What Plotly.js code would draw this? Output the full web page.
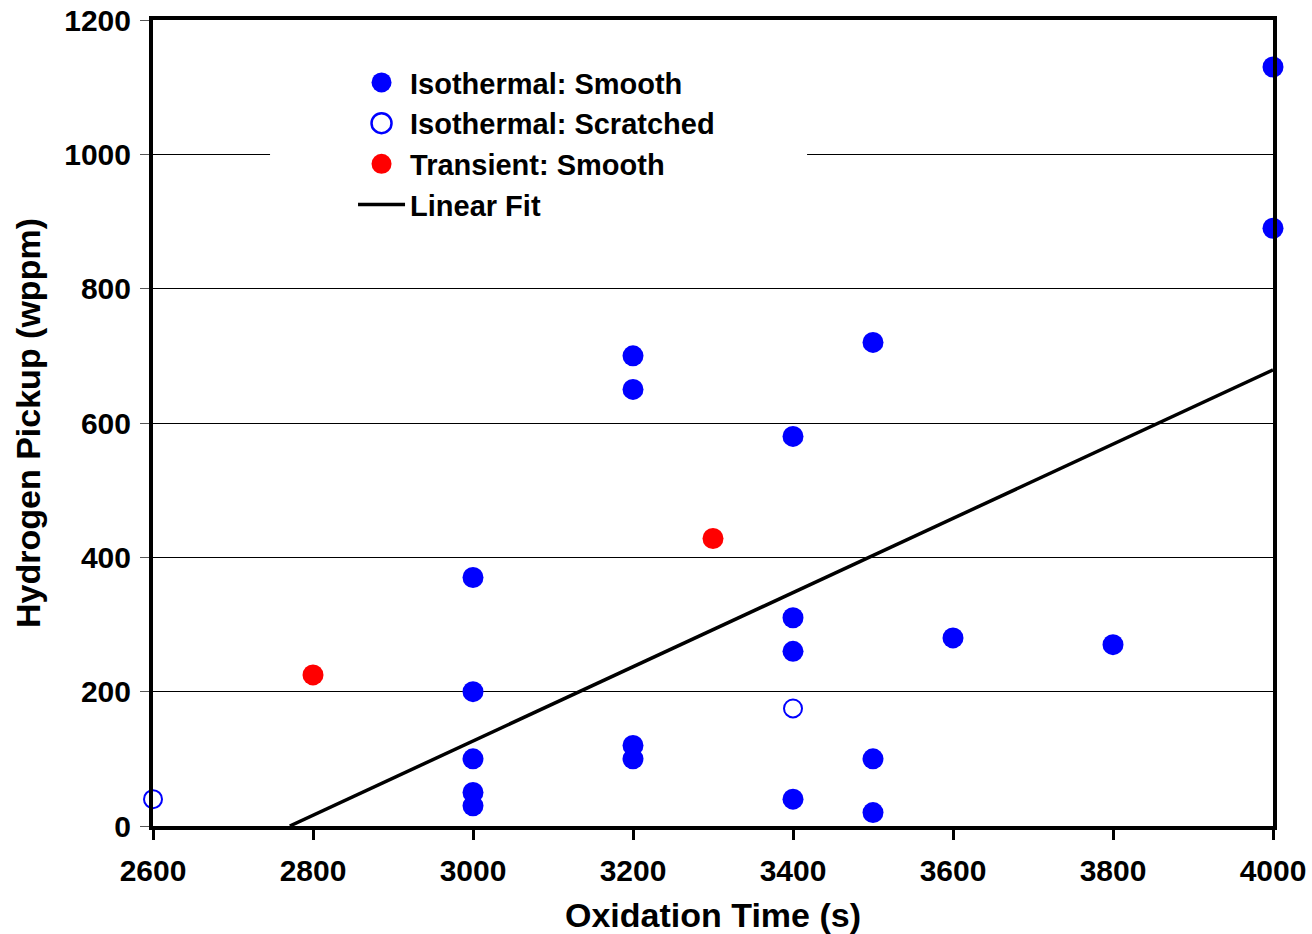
<!DOCTYPE html>
<html>
<head>
<meta charset="utf-8">
<script src="https://cdn.plot.ly/plotly-3.0.1.min.js"></script>
<style>html,body{margin:0;padding:0;background:#fff;}#chart{width:1312px;height:934px;}</style>
</head>
<body>
<div id="chart"></div>
<script>
// Isothermal: Smooth
const isoSmoothX = [4000, 4000, 3200, 3200, 3500, 3400, 3000, 3000, 3000, 3000, 3000, 3200, 3200, 3400, 3400, 3400, 3500, 3500, 3600, 3800];
const isoSmoothY = [1130, 890, 700, 650, 720, 580, 370, 200, 100, 50, 30, 120, 100, 310, 260, 40, 100, 20, 280, 270];
// Isothermal: Scratched
const isoScratchX = [2600, 3400];
const isoScratchY = [40, 175];
// Transient: Smooth
const transX = [2800, 3300];
const transY = [225, 428];
// Linear fit
const fitX = [2771, 4000];
const fitY = [0, 679];
// Ticks
const xTicks = [2600, 2800, 3000, 3200, 3400, 3600, 3800, 4000];
const yTicks = [0, 200, 400, 600, 800, 1000, 1200];

const FONT = 'Liberation Sans, Arial, sans-serif';

const traces = [
  {x: fitX, y: fitY, mode: 'lines', name: 'Linear Fit', legendrank: 4,
   line: {color: '#000000', width: 3.5}, cliponaxis: true},
  {x: isoSmoothX, y: isoSmoothY, mode: 'markers', name: 'Isothermal: Smooth', legendrank: 1,
   marker: {symbol: 'circle', size: 21, color: '#0000FF', line: {width: 0}}, cliponaxis: false},
  {x: isoScratchX, y: isoScratchY, mode: 'markers', name: 'Isothermal: Scratched', legendrank: 2,
   marker: {symbol: 'circle-open', size: 18, color: '#0000FF', line: {width: 2, color: '#0000FF'}}, cliponaxis: false},
  {x: transX, y: transY, mode: 'markers', name: 'Transient: Smooth', legendrank: 3,
   marker: {symbol: 'circle', size: 21, color: '#FF0000', line: {width: 0}}, cliponaxis: false}
];

const layout = {
  width: 1312, height: 934,
  margin: {l: 153, r: 39, t: 20, b: 108, pad: 0},
  paper_bgcolor: '#ffffff', plot_bgcolor: '#ffffff',
  font: {family: FONT, color: '#000000'},
  showlegend: true,
  legend: {x: 0.1786, y: 0.954, xanchor: 'left', yanchor: 'top',
           bgcolor: 'rgba(0,0,0,0)', borderwidth: 0, itemwidth: 47,
           font: {family: FONT, size: 29, color: '#000', weight: 'bold'}},
  xaxis: {
    range: [2600, 4000], tickvals: xTicks, ticktext: xTicks.map(String),
    showgrid: false, zeroline: false,
    showline: true, linewidth: 4, linecolor: '#000', mirror: true,
    ticks: 'outside', ticklen: 10, tickwidth: 3, tickcolor: '#000',
    ticklabelstandoff: 5,
    tickfont: {family: FONT, size: 30, color: '#000', weight: 'bold'},
    title: {text: 'Oxidation Time (s)', font: {family: FONT, size: 34, color: '#000', weight: 'bold'}, standoff: 20}
  },
  yaxis: {
    range: [0, 1200], tickvals: yTicks, ticktext: yTicks.map(String),
    showgrid: true, gridcolor: '#000', gridwidth: 1, zeroline: false,
    showline: true, linewidth: 4, linecolor: '#000', mirror: true,
    ticks: 'outside', ticklen: 9, tickwidth: 1, tickcolor: '#555',
    ticklabelstandoff: 3,
    tickfont: {family: FONT, size: 30, color: '#000', weight: 'bold'},
    title: {text: 'Hydrogen Pickup (wppm)', font: {family: FONT, size: 34, color: '#000', weight: 'bold'}, standoff: 14}
  },
  shapes: [{type: 'rect', xref: 'paper', yref: 'paper', x0: 0.1045, x1: 0.584, y0: 0.74, y1: 0.96,
            fillcolor: '#ffffff', line: {width: 0}, layer: 'above'}]
};

Plotly.newPlot('chart', traces, layout, {displayModeBar: false, staticPlot: true}).then(function (gd) {
  // enlarge legend marker symbols to match the plotted marker size
  gd.querySelectorAll('.legend .legendpoints path.scatterpts').forEach(function (p) {
    const t = p.getAttribute('transform') || '';
    p.setAttribute('transform', t + ' scale(1.25)');
  });
});
</script>
</body>
</html>
